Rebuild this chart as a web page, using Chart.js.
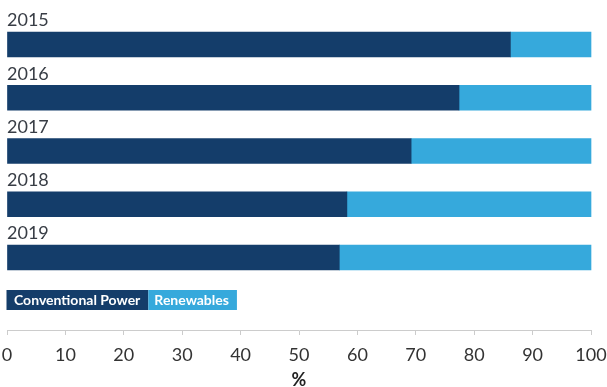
<!DOCTYPE html>
<html>
<head>
<meta charset="utf-8">
<script src="https://cdn.jsdelivr.net/npm/chart.js@4/dist/chart.umd.min.js"></script>
<style>
  html, body { margin: 0; padding: 0; background: #fff; }
  #wrap { position: relative; width: 607px; height: 387px; }
</style>
</head>
<body>
<div id="wrap"><canvas id="c"></canvas></div>
<script>
const years = ['2015', '2016', '2017', '2018', '2019'];
const conventionalPower = [86.2, 77.4, 69.2, 58.2, 56.9];
const renewables = [13.8, 22.6, 30.8, 41.8, 43.1];
const seriesNames = ['Conventional Power', 'Renewables'];
const seriesColors = ['#143d6a', '#36a9dc'];
const xTitle = '%';

Chart.defaults.font.family = 'Lato, "Open Sans", sans-serif';

const legendBg = {
  id: 'legendBg',
  beforeDraw(chart) {
    const lg = chart.legend;
    if (!lg || !lg.legendHitBoxes) return;
    const ctx = chart.ctx;
    let prevEnd = null;
    ctx.save();
    lg.legendHitBoxes.forEach((hb, i) => {
      const ds = chart.data.datasets[i];
      const cy = hb.top + hb.height / 2;
      const start = prevEnd === null ? hb.left - 0.5 : prevEnd;
      const end = hb.left + hb.width + 8;
      ctx.fillStyle = ds.backgroundColor;
      ctx.fillRect(start, cy - 10, end - start, 20);
      prevEnd = end;
    });
    ctx.restore();
  }
};

new Chart(document.getElementById('c'), {
  type: 'bar',
  data: {
    labels: years,
    datasets: [
      { label: seriesNames[0], data: conventionalPower, backgroundColor: seriesColors[0], barThickness: 25, clip: false },
      { label: seriesNames[1], data: renewables, backgroundColor: seriesColors[1], barThickness: 25, clip: false }
    ]
  },
  options: {
    indexAxis: 'y',
    responsive: true,
    maintainAspectRatio: false,
    animation: false,
    layout: { padding: { top: 44.5, left: 0, right: 16, bottom: 0 } },
    scales: {
      x: {
        stacked: true,
        min: 0, max: 100,
        weight: 2000,
        ticks: { stepSize: 10, color: '#333', padding: 0, font: { size: 18, lineHeight: 2.2 } },
        grid: { display: true, drawOnChartArea: false, drawTicks: true, tickLength: 5, color: '#cccccc' },
        border: { display: true, color: '#cccccc', width: 1 },
        title: { display: true, text: xTitle, color: '#222', font: { size: 18, weight: 'bold', lineHeight: 0.6 }, padding: { top: 0, bottom: 1.6 } }
      },
      y: {
        stacked: true,
        offset: false,
        afterFit(scale) { scale.width = 7; },
        grid: { display: false, drawTicks: false, tickLength: 0 },
        border: { display: false },
        ticks: { mirror: true, padding: 0, labelOffset: -24, color: '#383d45', font: { size: 18 } }
      }
    },
    plugins: {
      tooltip: { enabled: false },
      legend: {
        display: true,
        position: 'bottom',
        align: 'start',
        title: { display: true, text: '', color: 'rgba(0,0,0,0)', font: { size: 10, lineHeight: 1.55 }, padding: 0 },
        labels: {
          boxWidth: 0,
          boxHeight: 40,
          padding: 7,
          color: '#ffffff',
          font: { size: 14, weight: 'bold' },
          generateLabels(chart) {
            return chart.data.datasets.map((ds, i) => ({
              text: ds.label,
              fillStyle: 'rgba(0,0,0,0)',
              strokeStyle: 'rgba(0,0,0,0)',
              lineWidth: 0,
              fontColor: '#ffffff',
              hidden: false,
              datasetIndex: i
            }));
          }
        }
      }
    }
  },
  plugins: [legendBg]
});
</script>
</body>
</html>
